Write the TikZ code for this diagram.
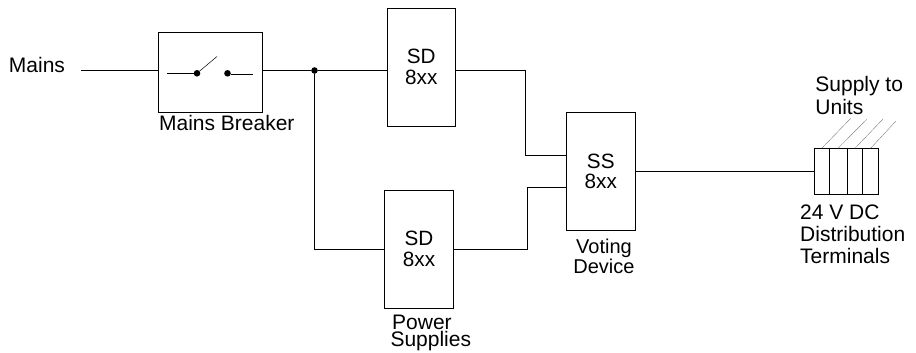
\documentclass[tikz,border=0pt]{standalone}
\usepackage{fontspec}
\setmainfont{Liberation Sans}
\usetikzlibrary{calc}
\tikzset{
  unitbox/.style={draw=black, line width=0.9pt, inner sep=0pt, outer sep=0pt, align=center, font=\fontsize{20.7}{20.3}\selectfont},
  termbox/.style={draw=black, line width=0.9pt, inner sep=0pt, outer sep=0pt, minimum height=46pt},
  caption/.style={inner sep=0pt, outer sep=0pt, align=center, font=\fontsize{21}{19.3}\selectfont},
  wire/.style={line width=0.9pt},
  feed/.style={line width=0.3pt, draw=black!60},
  blob/.style={circle, fill=black, inner sep=0pt, outer sep=0pt, minimum size=6.6pt}
}
\begin{document}
\begin{tikzpicture}[x=1pt,y=-1pt]
\useasboundingbox (0,0) rectangle (916,353);
\node[unitbox, minimum width=104pt, minimum height=80pt] (breaker) at (210.5,72) {};
\node[unitbox, minimum width=68pt, minimum height=118pt] (sdtop) at (421.3,67) {SD\\8xx};
\node[unitbox, minimum width=68.6pt, minimum height=118pt] (sdlow) at (419,249) {SD\\8xx};
\node[unitbox, minimum width=69pt, minimum height=117.4pt] (ss) at (600.8,171.4) {SS\\8xx};
\node[termbox, minimum width=15pt] (termA) at (821.8,171.3) {};
\node[termbox, minimum width=18.2pt] (termB) at (838.4,171.3) {};
\node[termbox, minimum width=15pt] (termC) at (855,171.3) {};
\node[termbox, minimum width=16.2pt] (termD) at (870.6,171.3) {};
% labels
\node[caption] (mains) at (37,65.3) {Mains};
\node[caption] (breakertxt) at (226.8,122.5) {Mains Breaker};
\node[caption, align=left, font=\fontsize{21}{17}\selectfont] (powertxt) at (430.8,332.8) {\hspace{1.7pt}Power\\Supplies};
\node[caption, font=\fontsize{20}{17}\selectfont] (votingtxt) at (604,256.4) {Voting\\Device};
\node[caption, align=left, font=\fontsize{21}{22.7}\selectfont] (supplytxt) at (859.2,95.8) {Supply to\\Units};
\node[caption, align=left, font=\fontsize{21}{22}\selectfont] (dctxt) at (852.7,234.2) {24 V DC\\Distribution\\Terminals};
% switch
\node[blob] (pivot) at (197,73.3) {};
\node[blob] (contact) at (227.5,73.3) {};
\coordinate (swin) at (167,73.3);
\coordinate (swtip) at (217,56.5);
\coordinate (swout) at (253,74.3);
\draw[wire] (swin) -- (pivot);
\draw[line width=0.5pt] (pivot) -- (swtip);
\draw[wire] (contact.east |- swout) -- (swout);
% wires
\coordinate (mainsend) at (81,70.5);
\node[blob] (tee) at (314.5,70.5) {};
\draw[wire] (mainsend) -- (mainsend -| breaker.west);
\draw[wire] (breaker.east |- tee) -- (tee) -- (tee -| sdtop.west);
\draw[wire] (tee) |- (sdlow.west);
\coordinate (topbend) at (525.3,155);
\coordinate (lowbend) at (527.3,187.3);
\draw[wire] (sdtop.east |- tee) -| (topbend) -- (topbend -| ss.west);
\draw[wire] (sdlow.east) -| (lowbend) -- (lowbend -| ss.west);
\draw[wire] (ss.east |- termA.west) -- (termA.west);
% feeds
\coordinate (feedA) at (851,118);
\coordinate (feedB) at (867,119);
\coordinate (feedC) at (883,119);
\coordinate (feedD) at (896,121);
\draw[feed] (termA.north) -- (feedA);
\draw[feed] ($(termB.north)+(-0.4,0)$) -- (feedB);
\draw[feed] (termC.north) -- (feedC);
\draw[feed] (termD.north) -- (feedD);
\end{tikzpicture}
\end{document}
